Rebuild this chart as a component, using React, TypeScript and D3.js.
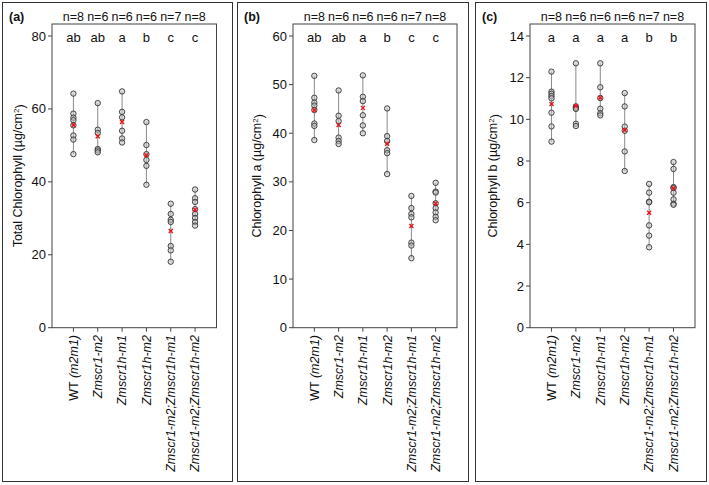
import React from "react";
import * as d3 from "d3";

const categories = [
  "WT (m2m1)",
  "Zmscr1-m2",
  "Zmscr1h-m1",
  "Zmscr1h-m2",
  "Zmscr1-m2;Zmscr1h-m1",
  "Zmscr1-m2;Zmscr1h-m2",
];
const nLabels = ["n=8", "n=6", "n=6", "n=6", "n=7", "n=8"];
const lettersTotal = ["ab", "ab", "a", "b", "c", "c"];
const lettersA = ["ab", "ab", "a", "b", "c", "c"];
const lettersB = ["a", "a", "a", "a", "b", "b"];

const totalChl = [
  [64.2, 58.7, 57.6, 56.9, 55.5, 52.7, 51.6, 47.6],
  [61.6, 54.3, 53.4, 49.0, 48.6, 48.1],
  [64.8, 59.2, 57.7, 54.0, 51.9, 50.8],
  [56.4, 50.1, 47.6, 46.0, 44.4, 39.2],
  [34.0, 31.2, 29.6, 29.0, 22.4, 21.2, 18.1],
  [37.9, 35.5, 34.5, 32.5, 31.2, 30.1, 29.0, 28.0],
];
const chlA = [
  [51.8, 47.3, 46.3, 45.7, 44.8, 42.0, 41.5, 38.6],
  [48.8, 43.6, 42.5, 39.1, 38.4, 37.8],
  [51.9, 47.5, 46.6, 43.7, 41.6, 40.0],
  [45.1, 39.4, 38.4, 36.5, 35.9, 31.6],
  [27.1, 24.6, 23.4, 22.7, 17.5, 16.9, 14.3],
  [29.8, 28.0, 27.8, 25.6, 24.6, 23.7, 22.8, 22.1],
];
const chlB = [
  [12.29, 11.33, 11.23, 11.12, 11.01, 10.32, 9.66, 8.93],
  [12.69, 10.62, 10.55, 10.5, 9.79, 9.68],
  [12.69, 11.54, 11.02, 10.51, 10.29, 10.19],
  [11.26, 10.62, 9.65, 9.45, 8.46, 7.52],
  [6.9, 6.48, 6.05, 6.02, 4.91, 4.42, 3.86],
  [7.95, 7.62, 6.75, 6.7, 6.48, 6.16, 5.95, 5.9],
];

const ticksTotal = [0, 20, 40, 60, 80];
const ticksA = [0, 10, 20, 30, 40, 50, 60];
const ticksB = [0, 2, 4, 6, 8, 10, 12, 14];

const FONT = "'Liberation Sans', Arial, Helvetica, sans-serif";

const panels = [
  { tag: "(a)", title: "Total Chlorophyll (µg/cm", data: totalChl, letters: lettersTotal, ticks: ticksTotal, box: [2, 232], plot: [52, 216.5], titleX: 18 },
  { tag: "(b)", title: "Chlorophyll a (µg/cm", data: chlA, letters: lettersA, ticks: ticksA, box: [237, 468], plot: [293, 457], titleX: 257 },
  { tag: "(c)", title: "Chlorophyll b (µg/cm", data: chlB, letters: lettersB, ticks: ticksB, box: [475, 706], plot: [530, 695], titleX: 493 },
];

const Y0 = 327.7;
const YTOP_TICK = 36;
const PLOT_TOP = 24;

function CatLabel({ label, x, y }: { label: string; x: number; y: number }) {
  const isWT = label.startsWith("WT");
  return (
    <text
      transform={`translate(${x},${y}) rotate(-90)`}
      textAnchor="end"
      dy="0.35em"
      fontSize={12.5}
      fontFamily={FONT}
      fill="#111"
    >
      {isWT ? (
        <>
          <tspan>WT </tspan>
          <tspan fontStyle="italic">(m2m1)</tspan>
        </>
      ) : (
        <tspan fontStyle="italic">{label}</tspan>
      )}
    </text>
  );
}

function Panel({ p }: { p: (typeof panels)[number] }) {
  const x = d3.scalePoint<string>().domain(categories).range(p.plot).padding(0.88);
  const maxTick = p.ticks[p.ticks.length - 1];
  const y = d3.scaleLinear().domain([0, maxTick]).range([Y0, YTOP_TICK]);
  const [l, r] = p.plot;
  return (
    <g>
      <rect x={p.box[0] + 0.5} y={2.5} width={p.box[1] - p.box[0]} height={479} fill="none" stroke="#333" strokeWidth={1} />
      <text x={p.box[0] + 7} y={16.5} dy="0.35em" fontSize={12.5} fontWeight="bold" fontFamily={FONT} fill="#111">
        {p.tag}
      </text>
      <rect x={l} y={PLOT_TOP} width={r - l} height={Y0 - PLOT_TOP} fill="none" stroke="#444" strokeWidth={1} />
      {p.ticks.map((t) => (
        <g key={t}>
          <line x1={l - 4} x2={l} y1={y(t)} y2={y(t)} stroke="#444" />
          <text x={l - 6} y={y(t)} dy="0.35em" textAnchor="end" fontSize={13} fontFamily={FONT} fill="#111">
            {t}
          </text>
        </g>
      ))}
      <text
        transform={`translate(${p.titleX},${(PLOT_TOP + Y0) / 2}) rotate(-90)`}
        textAnchor="middle"
        dy="0.35em"
        fontSize={12.5}
        fontFamily={FONT}
        fill="#111"
      >
        {p.title}
        <tspan dy="-0.45em" fontSize={8}>2</tspan>
        <tspan dy="0.45em">)</tspan>
      </text>
      {categories.map((c, i) => {
        const cx = x(c) as number;
        const vals = p.data[i];
        const ext = d3.extent(vals) as [number, number];
        const m = d3.mean(vals) as number;
        return (
          <g key={c}>
            <line x1={cx} x2={cx} y1={Y0} y2={Y0 + 4} stroke="#444" />
            <CatLabel label={c} x={cx} y={335} />
            <text x={cx} y={16.5} dy="0.35em" textAnchor="middle" fontSize={12.5} fontFamily={FONT} fill="#111">
              {nLabels[i]}
            </text>
            <text x={cx} y={37} dy="0.35em" textAnchor="middle" fontSize={13} fontFamily={FONT} fill="#111">
              {p.letters[i]}
            </text>
            <line x1={cx} x2={cx} y1={y(ext[0])} y2={y(ext[1])} stroke="#8a8a8a" strokeWidth={1} />
            {vals.map((v, k) => (
              <circle key={k} cx={cx} cy={y(v)} r={2.7} fill="#c4c4c4" fillOpacity={0.55} stroke="#333" strokeWidth={0.9} />
            ))}
            <g stroke="#e8141b" strokeWidth={1.4}>
              <line x1={cx - 2} x2={cx + 2} y1={y(m) - 2} y2={y(m) + 2} />
              <line x1={cx - 2} x2={cx + 2} y1={y(m) + 2} y2={y(m) - 2} />
            </g>
          </g>
        );
      })}
    </g>
  );
}

export default function App() {
  return (
    <svg
      width={709}
      height={485}
      style={{ position: "absolute", left: 0, top: 0, display: "block", background: "#fff" }}
    >
      <rect width={709} height={485} fill="#fff" />
      {panels.map((p) => (
        <Panel key={p.tag} p={p} />
      ))}
    </svg>
  );
}
